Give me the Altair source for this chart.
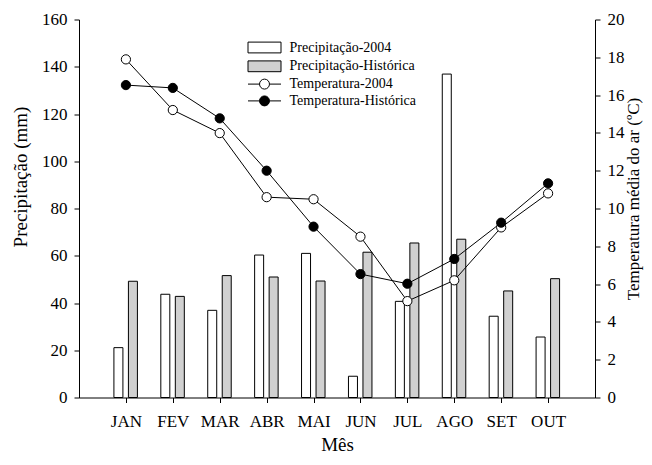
import altair as alt
import pandas as pd

months = ["JAN", "FEV", "MAR", "ABR", "MAI", "JUN", "JUL", "AGO", "SET", "OUT"]
precip_2004 = [21.1, 43.7, 36.9, 60.3, 61.0, 9.0, 40.7, 136.9, 34.4, 25.6]
precip_hist = [49.2, 42.8, 51.6, 51.0, 49.3, 61.5, 65.4, 67.0, 45.1, 50.3]
temp_2004 = [17.89, 15.21, 13.99, 10.6, 10.49, 8.51, 5.1, 6.2, 9.0, 10.8]
temp_hist = [16.53, 16.38, 14.77, 12.0, 9.04, 6.53, 6.02, 7.33, 9.25, 11.33]
series = ["Precipitação-2004", "Precipitação-Histórica",
          "Temperatura-2004", "Temperatura-Histórica"]

df = pd.DataFrame({
    "pos": list(range(1, len(months) + 1)),
    "mes": months,
    "p2004": precip_2004,
    "phist": precip_hist,
    "t2004": temp_2004,
    "thist": temp_hist,
    "serie": [series[i % len(series)] for i in range(len(months))],
})

FONT = "Liberation Serif"
GRAY = "#d0d0d0"
label_expr = "[" + ",".join(f"'{m}'" for m in months) + "][datum.value - 1]"

x_enc = alt.X(
    "pos:Q",
    scale=alt.Scale(domain=[0, 11], nice=False, zero=False, padding=0),
    axis=alt.Axis(values=list(range(1, len(months) + 1)), labelExpr=label_expr,
                  title="Mês", labelPadding=11, titlePadding=5.5, labelFlush=False,
                  labelOverlap=False),
)

left_axis = alt.Axis(orient="left", values=list(range(0, 161, 20)),
                     title="Precipitação (mm)", titlePadding=11, labelPadding=7,
                     titleY=157)
right_axis = alt.Axis(orient="right", values=list(range(0, 21, 2)),
                      title="Temperatura média do ar (ºC)", titleAngle=270,
                      titleBaseline="top", titlePadding=1, labelPadding=7,
                      titleFontSize=17, titleY=179)

base = alt.Chart(df)

bar_2004 = base.mark_bar(width=9, xOffset=-7.5, fill="white", stroke="black",
                         strokeWidth=1).encode(
    x=x_enc,
    y=alt.Y("p2004:Q", scale=alt.Scale(domain=[0, 160], nice=False), axis=left_axis),
)
bar_hist = base.mark_bar(width=9, xOffset=7, fill=GRAY, stroke="black",
                         strokeWidth=1).encode(
    x=x_enc,
    y=alt.Y("phist:Q", scale=alt.Scale(domain=[0, 160], nice=False), axis=left_axis),
)
bars = alt.layer(bar_2004, bar_hist)

y_t = alt.Y("t2004:Q", scale=alt.Scale(domain=[0, 20], nice=False), axis=right_axis)
y_h = alt.Y("thist:Q", scale=alt.Scale(domain=[0, 20], nice=False), axis=right_axis)

line_2004 = base.mark_line(color="black", strokeWidth=1).encode(x=x_enc, y=y_t)
pts_2004 = base.mark_point(shape="circle", size=85, filled=True, fill="white",
                           stroke="black", strokeWidth=1, opacity=1).encode(x=x_enc, y=y_t)
line_hist = base.mark_line(color="black", strokeWidth=1).encode(x=x_enc, y=y_h)
pts_hist = base.mark_point(shape="circle", size=85, filled=True, fill="black",
                           stroke="black", strokeWidth=1, opacity=1).encode(x=x_enc, y=y_h)

rect_path = "M-2.75,-0.9H2.75V0.9H-2.75Z"
circ_path = ("M-2.75,0H-0.83M0.83,0H2.75M-0.83,0A0.83,0.83 0 1,1 0.83,0"
             "A0.83,0.83 0 1,1 -0.83,0Z")

leg = alt.Legend(orient="none", legendX=178.5, legendY=21, title=None,
                 symbolSize=144, symbolStrokeColor="black",
                 symbolStrokeWidth=1, labelOffset=18,
                 rowPadding=2.8, padding=0, labelFontSize=14,
                 labelFont=FONT, labelColor="black")

legend_layer = base.mark_point(filled=True, opacity=1).encode(
    fill=alt.Fill("serie:N",
                  scale=alt.Scale(domain=series, range=["white", GRAY, "white", "black"]),
                  legend=leg),
    stroke=alt.Stroke("serie:N",
                      scale=alt.Scale(domain=series, range=["black"] * len(series)),
                      legend=leg),
    shape=alt.Shape("serie:N",
                    scale=alt.Scale(domain=series,
                                    range=[rect_path, rect_path, circ_path, circ_path]),
                    legend=leg),
).transform_filter("false")

temps = alt.layer(line_2004, line_hist, pts_2004, pts_hist, legend_layer)

chart = alt.layer(bars, temps).resolve_scale(y="independent").properties(
    width=516, height=378,
    autosize=alt.AutoSizeParams(type="none"),
    padding={"left": 71, "top": 11.5, "right": 49, "bottom": 59.5},
).configure_view(strokeWidth=0).configure_axis(
    labelFont=FONT, titleFont=FONT, labelFontSize=17, titleFontSize=19,
    labelColor="black", titleColor="black", titleFontWeight="normal",
    domainColor="black", tickColor="black", domainWidth=1, tickWidth=1,
    tickSize=5, grid=False,
)

chart.save("out.html", embed_options={"renderer": "svg", "actions": False})
